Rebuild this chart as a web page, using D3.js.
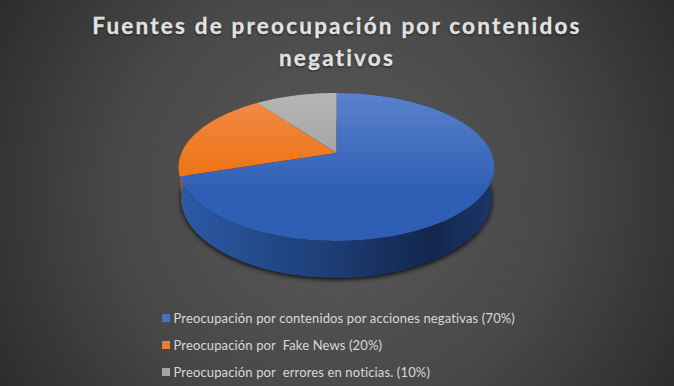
<!DOCTYPE html>
<html>
<head>
<meta charset="utf-8">
<script src="https://cdn.jsdelivr.net/npm/d3@7"></script>
<style>
html, body { margin: 0; padding: 0; background: #333; }
svg { display: block; }
text { font-family: Lato, sans-serif; }
</style>
</head>
<body>
<div id="chart"></div>
<script>
var titleLines = ["Fuentes de preocupación por contenidos", "negativos"];
var categories = [
    "Preocupación por contenidos por acciones negativas (70%)",
    "Preocupación por  Fake News (20%)",
    "Preocupación por  errores en noticias. (10%)"
];
var values = [70, 20, 10];
var topStart = ["#5a82cc", "#f08d4c", "#b6b6b6"];
var topEnd = ["#2f5fb5", "#ee7518", "#a1a1a1"];
var wallColors = ["#1e3f77", "#a85418", "#707070"];
var legendColors = ["#4472c4", "#ed7d31", "#a5a5a5"];

var width = 674, height = 386;

var svg = d3.select("#chart").append("svg")
        .attr("width", width)
        .attr("height", height);

var defs = svg.append("defs");

var bg = defs.append("radialGradient")
        .attr("id", "bg")
        .attr("gradientUnits", "userSpaceOnUse")
        .attr("cx", 337).attr("cy", 193).attr("r", 400);
bg.append("stop").attr("offset", "0%").attr("stop-color", "#5a5a5a");
bg.append("stop").attr("offset", "55%").attr("stop-color", "#484848");
bg.append("stop").attr("offset", "100%").attr("stop-color", "#2b2b2b");

values.forEach(function (v, i) {
    var g = defs.append("linearGradient")
            .attr("id", "top" + i)
            .attr("gradientUnits", "userSpaceOnUse")
            .attr("x1", 0).attr("y1", 93).attr("x2", 0).attr("y2", i === 0 ? 190 : 170);
    g.append("stop").attr("offset", "0%").attr("stop-color", topStart[i]);
    g.append("stop").attr("offset", "100%").attr("stop-color", topEnd[i]);
});

var wallGrad = defs.append("linearGradient")
        .attr("id", "wall0")
        .attr("gradientUnits", "userSpaceOnUse")
        .attr("x1", 180).attr("y1", 0).attr("x2", 494).attr("y2", 0);
wallGrad.append("stop").attr("offset", "0%").attr("stop-color", "#2c5aa6");
wallGrad.append("stop").attr("offset", "45%").attr("stop-color", "#1e3f78");
wallGrad.append("stop").attr("offset", "80%").attr("stop-color", "#12274e");
wallGrad.append("stop").attr("offset", "100%").attr("stop-color", "#1c3668");

defs.append("filter")
        .attr("id", "blur")
        .attr("x", "-10%").attr("y", "-10%").attr("width", "120%").attr("height", "120%")
        .append("feGaussianBlur").attr("stdDeviation", 2.5);

svg.append("rect")
        .attr("width", width)
        .attr("height", height)
        .attr("fill", "url(#bg)");

// title
svg.append("g").selectAll("text")
        .data(titleLines)
        .enter().append("text")
        .attr("x", 337)
        .attr("y", function (d, i) { return 34 + i * 32; })
        .attr("text-anchor", "middle")
        .attr("font-size", 22.5)
        .attr("font-weight", 700)
        .attr("letter-spacing", 2.2)
        .attr("fill", "#f2f2f2")
        .attr("stroke", "#f2f2f2")
        .attr("stroke-width", 0.3)
        .style("text-shadow", "0 1px 2px rgba(0,0,0,0.6)")
        .text(function (d) { return d; });

// pie in perspective: a flat circle seen from above, apex sits above the ellipse centre
var cx = 336.5, cy = 153, rx = 155, ry = 71.35, persp = 0.189, depth = 30;

function project(angle, down) {
    var w = 1 + persp * Math.cos(angle);
    var shrink = down ? 0.985 : 1;
    return [
        cx + shrink * rx * Math.sin(angle) / w,
        cy - ry * Math.cos(angle) / w + (down ? depth / w : 0)
    ];
}

function arcAngles(a0, a1) {
    return d3.range(0, 61).map(function (i) { return a0 + (a1 - a0) * i / 60; });
}

var line = d3.line();

var pie = d3.pie().sort(null).startAngle(0).endAngle(2 * Math.PI);
var slices = pie(values);

// shadow below the side wall
svg.append("path")
        .attr("d", line(arcAngles(0, 2 * Math.PI).map(function (a) {
            var p = project(a, true);
            return [p[0], p[1] + 1.5];
        })) + "Z")
        .attr("fill", "#000")
        .attr("opacity", 0.9)
        .attr("filter", "url(#blur)");

// side wall
svg.append("g").selectAll("path")
        .data(slices)
        .enter().append("path")
        .attr("d", function (d) {
            var angles = arcAngles(d.startAngle, d.endAngle);
            var upper = angles.map(function (a) { return project(a, false); });
            var lower = angles.slice().reverse().map(function (a) { return project(a, true); });
            return line(upper.concat(lower)) + "Z";
        })
        .attr("fill", function (d, i) { return i === 0 ? "url(#wall0)" : wallColors[i]; });

// top face
svg.append("g").selectAll("path")
        .data(slices)
        .enter().append("path")
        .attr("d", function (d) {
            var pts = arcAngles(d.startAngle, d.endAngle).map(function (a) { return project(a, false); });
            return line([[cx, cy]].concat(pts)) + "Z";
        })
        .attr("fill", function (d, i) { return "url(#top" + i + ")"; });

// legend
var legendY = d3.scalePoint().domain(categories).range([318, 372]);

var legend = svg.append("g").selectAll("g")
        .data(categories)
        .enter().append("g")
        .attr("transform", function (d) { return "translate(162," + legendY(d) + ")"; });

legend.append("rect")
        .attr("x", 0).attr("y", -4)
        .attr("width", 8).attr("height", 8)
        .attr("fill", function (d, i) { return legendColors[i]; });

legend.append("text")
        .attr("x", 11.5)
        .attr("y", 4.5)
        .attr("font-size", 13)
        .attr("letter-spacing", 0.14)
        .attr("fill", "#d9d9d9")
        .attr("xml:space", "preserve")
        .style("white-space", "pre")
        .text(function (d) { return d; });
</script>
</body>
</html>
